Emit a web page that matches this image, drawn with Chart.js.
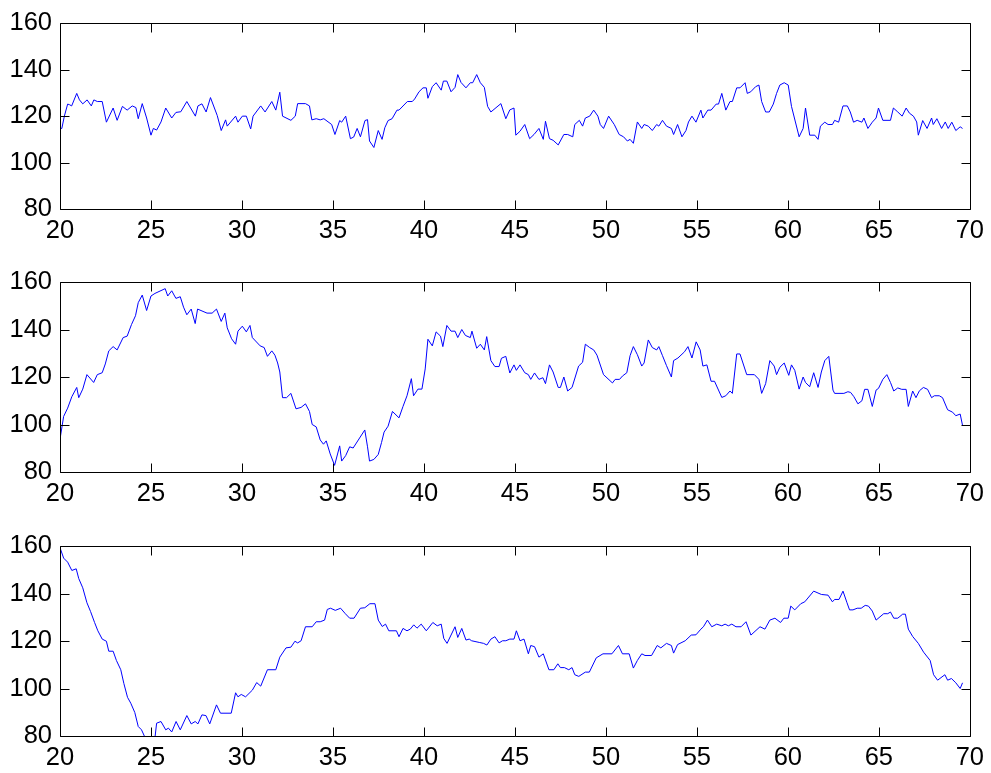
<!DOCTYPE html>
<html><head><meta charset="utf-8">
<script src="https://cdn.jsdelivr.net/npm/chart.js@4"></script>
<style>
html,body{margin:0;padding:0;background:#fff;overflow:hidden;}
#wrap{position:relative;width:991px;height:773px;}
#wrap canvas{position:absolute;left:0;top:0;}
</style>
</head><body>
<div id="wrap">
<canvas id="c1" width="991" height="773"></canvas>
<canvas id="c2" width="991" height="773"></canvas>
<canvas id="c3" width="991" height="773"></canvas>
</div>
<script>
const xTicks = [20,25,30,35,40,45,50,55,60,65,70];
const yTicks = [80,100,120,140,160];

const xs1 = [20.0,20.1,20.24,20.42,20.53,20.64,20.92,21.07,21.25,21.49,21.72,21.86,22.05,22.32,22.55,22.92,23.14,23.43,23.69,23.97,24.17,24.3,24.52,24.76,25.0,25.13,25.31,25.55,25.81,26.14,26.37,26.64,26.97,27.44,27.58,27.8,28.03,28.27,28.64,28.86,29.1,29.19,29.65,29.78,30.02,30.24,30.48,30.61,31.03,31.27,31.64,31.86,32.08,32.23,32.69,32.93,33.06,33.49,33.71,33.84,34.08,34.3,34.5,34.93,35.11,35.37,35.48,35.7,35.96,36.14,36.33,36.51,36.76,36.9,37.01,37.25,37.49,37.7,37.85,38.03,38.25,38.52,38.63,39.09,39.36,39.49,39.73,39.95,40.13,40.22,40.46,40.67,40.95,41.07,41.26,41.49,41.71,41.86,42.04,42.31,42.55,42.68,42.9,43.1,43.32,43.5,43.68,44.23,44.5,44.72,44.95,45.05,45.28,45.54,45.81,46.05,46.32,46.56,46.68,46.9,47.1,47.38,47.69,47.9,48.18,48.29,48.54,48.72,48.87,49.11,49.33,49.56,49.69,49.87,50.15,50.46,50.73,50.97,51.18,51.33,51.51,51.73,51.97,52.1,52.33,52.55,52.79,52.91,53.11,53.33,53.6,53.72,53.94,54.18,54.4,54.54,54.73,54.95,55.22,55.33,55.6,55.78,56.06,56.19,56.37,56.59,56.82,56.95,57.19,57.37,57.65,57.77,57.96,58.23,58.41,58.56,58.78,58.98,59.2,59.38,59.56,59.8,60.02,60.2,60.62,60.84,60.97,61.2,61.48,61.66,61.79,62.03,62.21,62.45,62.57,62.79,63.03,63.27,63.43,63.61,63.81,64.07,64.18,64.4,64.64,64.85,64.98,65.22,65.64,65.8,66.04,66.28,66.5,66.68,66.9,67.08,67.17,67.41,67.65,67.9,67.99,68.19,68.45,68.65,68.81,69.01,69.23,69.47,69.6];
const ys1 = [114.7,114.7,120,125.2,124.9,124.4,129.8,127,125.3,127,124.4,127,126.3,126.3,117.4,123.5,118.2,124.2,122.6,124.4,123.7,118.9,125.4,119.2,111.8,114.7,114,117.5,123.5,119.2,121.6,121.9,126.3,120,124.4,125.3,121.8,128,120.3,113.8,118.4,115.7,120,117.4,120,120,114.5,120,124.4,121.8,126.3,122.6,130.3,120,118.2,120,125.4,125.4,124.4,118.4,118.9,118.4,118.9,116.4,112.1,118.1,117.4,120,110.3,111,114.7,111.1,118.1,118.5,109.3,106.5,113.8,110,115,118.1,118.9,122.6,122.6,126.3,126.3,127.4,130.5,132.2,132.2,127.7,132.7,134.4,131.2,135.1,135.1,130.5,132.4,137.9,134.5,132.2,134.4,134.4,137.9,134.4,132.4,124.2,121.8,125.4,118.9,122.7,123.5,111.8,113.5,116.4,110.3,112.1,114.7,110,117.8,110.3,109.6,107.6,112.1,112.1,111.1,116.4,118.2,115.7,119.2,120,122.6,120,116.4,114.7,120,116.4,112.1,111.1,109.3,110,108.3,117.5,114.7,116.4,115.7,113.8,116.4,115.7,118.2,115.7,114.7,112.1,116.4,111.1,113.8,117.5,120,117.4,122.6,119.2,122.6,122.6,125.2,125.2,129.8,122.6,126.3,126.3,132.2,132.2,134.4,129.8,130.5,132.7,133.4,126.3,121.8,121.8,125.2,129.8,133.4,134.4,133.4,124.2,111.1,114.7,123.5,111.8,111.8,110,115.7,117.4,116.4,116.4,118.2,117.4,124.4,124.4,121.8,117.4,118.2,117.4,119.2,114.7,117.4,119.2,123.5,118.2,118.2,123.5,121.8,120,123.5,121.3,120,117.5,111.8,118.1,114.7,119.2,116.4,118.9,114.7,117.5,114.7,117.4,113.8,115.4,114.7];

const xs2 = [20.0,20.2,20.42,20.65,20.92,21.03,21.25,21.48,21.85,22.05,22.32,22.49,22.68,22.92,23.14,23.47,23.69,23.93,24.15,24.3,24.52,24.76,25.0,25.22,25.78,25.92,26.14,26.37,26.61,26.79,26.97,27.21,27.43,27.56,28.08,28.36,28.6,28.86,29.06,29.19,29.43,29.65,29.78,30.02,30.24,30.44,30.57,31.0,31.22,31.4,31.64,31.81,31.96,32.08,32.23,32.45,32.69,32.97,33.25,33.49,33.71,33.86,34.08,34.3,34.48,34.63,34.85,35.09,35.37,35.48,35.7,35.92,36.11,36.75,36.9,37.01,37.25,37.49,37.67,37.81,38.03,38.27,38.63,38.85,39.07,39.31,39.43,39.67,39.89,40.07,40.22,40.46,40.67,40.91,41.04,41.26,41.49,41.71,41.86,42.08,42.28,42.55,42.64,42.9,43.1,43.32,43.45,43.68,43.9,44.13,44.26,44.5,44.72,44.95,45.08,45.28,45.54,45.74,45.87,46.08,46.32,46.54,46.68,46.9,47.1,47.38,47.5,47.69,47.9,48.14,48.5,48.72,48.87,49.11,49.33,49.51,49.87,50.36,50.51,50.75,50.91,51.15,51.33,51.51,51.73,51.97,52.1,52.33,52.55,52.79,52.91,53.11,53.33,53.6,53.72,53.96,54.32,54.51,54.73,54.96,55.18,55.33,55.55,55.78,55.97,56.37,56.59,56.82,56.95,57.19,57.37,57.74,58.16,58.41,58.56,58.78,59.01,59.25,59.38,59.56,59.8,60.05,60.2,60.38,60.62,60.84,60.97,61.2,61.42,61.66,61.84,62.03,62.25,62.48,62.57,63.08,63.3,63.45,63.63,63.85,64.07,64.22,64.4,64.64,64.85,64.98,65.22,65.44,65.64,65.82,66.04,66.26,66.5,66.62,66.86,67.04,67.23,67.45,67.68,67.9,68.05,68.32,68.5,68.78,69.05,69.23,69.47,69.6];
const ys2 = [93.8,103.4,106.9,111.7,115.6,111.3,114.9,121,117.7,121,121.8,125.5,131,132.8,131.4,136.6,137.2,142.1,145.8,151.3,154.5,148,154.1,155.2,157.2,154.1,156.3,153.1,153.8,149.4,146.2,148.6,142.5,148.6,146.9,146.9,148.6,143.4,146.9,140.7,136.1,133.8,139.3,141.4,139,141.7,136.6,133.1,132.4,128.7,131,129.2,125.9,122.1,111.3,111.3,113.1,106.6,107.2,108.7,105.5,100,99,93.5,91.7,93.1,87.6,82.8,91.0,84.6,86.9,90.6,90.1,97.7,90.6,84.6,85.3,87.4,92.4,96.8,99.3,105.5,102.8,107.6,112.1,119.3,112.1,114.9,114.9,123.4,135.9,133.1,139,137.2,132.8,141.7,139.3,139.3,136.6,140,137.5,136.6,139.3,132.1,133.8,131.4,137,126.9,124.4,124.4,127.9,128.7,121.7,125.1,122.8,125.1,121.8,121,119,121.7,119,119.7,117.2,125.1,122.1,115.6,115.6,120,114.1,115.6,124.6,126.2,133.8,132.4,131.4,129.2,121,117.5,119,119,120.4,121.8,129,132.8,129.4,124.6,125.9,135.6,132.4,131.4,132.8,129,124.8,120,126.9,128,130.6,132.8,128,134.8,131.4,124.6,125.1,118.2,118.2,111.4,112.1,114.1,113.1,129.7,129.7,121,121,119,113.1,117.2,126.9,124.6,121,124.1,125.9,120.7,125.1,122.8,114.9,120,117.7,115.9,121.8,115.6,122.1,126.9,128.7,114.5,113.1,113.1,113.8,113.5,111.7,108.7,110,114.8,114.8,107.6,114.5,115.2,119,121,117.7,114.1,115.4,114.8,114.8,107.6,114.1,111.3,114.2,115.6,114.8,111.3,112.1,112.1,111.3,106.2,105.2,103.7,104.4,99.6];

const xs3 = [20.0,20.2,20.42,20.65,20.89,21.03,21.25,21.48,21.68,21.9,22.08,22.32,22.55,22.68,22.92,23.1,23.34,23.51,23.71,23.89,24.11,24.3,24.48,24.67,24.94,25.22,25.31,25.55,25.81,25.96,26.14,26.38,26.61,26.97,27.21,27.43,27.58,27.8,28.02,28.23,28.6,28.82,29.41,29.65,29.78,29.96,30.2,30.57,30.81,31.03,31.4,31.86,32.08,32.42,32.69,32.91,33.06,33.25,33.49,33.86,34.08,34.3,34.54,34.69,34.87,35.13,35.42,35.68,35.92,36.16,36.51,36.75,37.03,37.31,37.49,37.71,37.89,38.07,38.49,38.63,38.85,39.07,39.25,39.44,39.62,39.85,40.13,40.49,40.73,40.95,41.09,41.27,41.71,41.86,42.08,42.31,42.49,42.62,43.04,43.28,43.46,43.68,43.9,44.13,44.32,44.5,44.72,44.95,45.08,45.28,45.5,45.74,45.87,46.08,46.32,46.56,46.87,47.14,47.36,47.5,47.72,47.96,48.14,48.29,48.51,48.87,49.09,49.47,49.84,50.33,50.69,50.91,51.28,51.51,51.73,51.97,52.15,52.51,52.82,53.02,53.33,53.6,53.72,53.94,54.36,54.69,54.95,55.22,55.36,55.58,55.82,56.09,56.37,56.55,56.73,56.92,57.15,57.43,57.7,57.97,58.47,58.74,59.01,59.29,59.6,59.78,60.02,60.16,60.38,60.71,60.93,61.42,61.84,62.21,62.45,62.57,62.81,63.03,63.25,63.39,63.58,63.81,64.03,64.25,64.43,64.64,64.85,65.27,65.49,65.64,65.82,66.04,66.31,66.46,66.62,66.86,67.17,67.46,67.82,68.01,68.23,68.63,68.78,68.99,69.23,69.47,69.6];
const ys3 = [159.3,154.9,153.2,149.7,150.4,146.3,142.4,136.1,132.4,127.8,124.3,120.8,119.9,115.7,115.7,111.8,107.9,102.1,96.3,93.8,89.9,84,82.6,79.4,76,79.4,85.4,86.1,82.6,83.3,81.7,86.1,82.6,88.6,85.1,86.1,85.1,88.9,88.6,85.1,93.1,89.6,89.6,98.2,96.5,97.5,96.5,99.3,102.5,101,107.9,107.9,113.2,117.1,117.4,119.9,119.2,120.1,126,126,128.1,128.1,128.8,133.3,133.8,132.9,133.8,131.5,129.6,129.6,133.8,134,135.7,135.7,128.8,126.1,127.1,124.3,124.3,121.8,125.3,124.3,125,126.8,125.4,127.1,124.3,127.8,126.4,127.1,121.1,119,126,121.5,125.3,120.4,120.8,120.1,119.4,119,118.3,120.8,121.8,119.2,120.1,120.1,120.8,120.8,124.3,120.1,120.8,114.6,118.1,117.6,113.2,114.6,107.9,107.9,110.4,108.8,108.8,107.9,108.8,105.8,105.1,106.9,106.9,112.9,114.6,114.6,118.1,114.6,114.6,108.6,111.8,114.6,113.9,113.9,118.1,117.1,119,118.1,114.9,118.5,120.1,122.5,122.6,125,126,128.8,126,127.1,126.4,127.1,126.4,127.1,126,126,128.1,122.5,126,125,128.8,129.6,127.8,129.6,129.6,134.7,133.1,135.7,136.5,141,139.6,139.3,136.5,137.5,137.5,141,136.1,133.1,133.1,133.8,133.8,135,134.7,132.6,128.8,131.5,131.5,132.2,129.6,129.6,131.3,131.3,125,121.9,119,115.3,111.8,105.8,103.5,105.8,103.5,104.2,102.4,100,102.4];

const FONT = {family: 'Arial, "Liberation Sans", Helvetica, sans-serif', size: 25.5};
const TICK_LEN = 9;

const boxPlugin = {
  id: 'matlabBox',
  afterDraw(chart) {
    const {ctx, chartArea: a, scales} = chart;
    ctx.save();
    ctx.strokeStyle = '#000';
    ctx.lineWidth = 1;
    ctx.beginPath();
    const L = Math.round(a.left) + 0.5, R = Math.round(a.right) + 0.5;
    const T = Math.round(a.top) + 0.5, B = Math.round(a.bottom) + 0.5;
    ctx.rect(L, T, R - L, B - T);
    xTicks.forEach(v => {
      const px = Math.round(scales.x.getPixelForValue(v)) + 0.5;
      ctx.moveTo(px, B); ctx.lineTo(px, B - TICK_LEN);
      ctx.moveTo(px, T); ctx.lineTo(px, T + TICK_LEN);
    });
    yTicks.forEach(v => {
      const py = Math.round(scales.y.getPixelForValue(v)) + 0.5;
      ctx.moveTo(L, py); ctx.lineTo(L + TICK_LEN, py);
      ctx.moveTo(R, py); ctx.lineTo(R - TICK_LEN, py);
    });
    ctx.stroke();
    ctx.restore();
  }
};

function makeChart(id, xs, ys, padTop, padBottom) {
  const pts = xs.map((x, i) => ({x: x, y: ys[i]}));
  return new Chart(document.getElementById(id), {
    type: 'line',
    data: {datasets: [{data: pts, borderColor: '#0000ff', borderWidth: 1, pointRadius: 0, tension: 0, fill: false}]},
    options: {
      responsive: false,
      animation: false,
      events: [],
      layout: {padding: {left: 0, right: 18, top: padTop, bottom: padBottom}},
      plugins: {legend: {display: false}, tooltip: {enabled: false}},
      scales: {
        x: {
          type: 'linear', min: 20, max: 70,
          afterBuildTicks: s => { s.ticks = xTicks.map(v => ({value: v})); },
          afterFit: s => { s.height = 36; },
          grid: {display: false, drawTicks: false},
          border: {display: false},
          ticks: {color: '#000', font: FONT, padding: 7, maxRotation: 0, autoSkip: false}
        },
        y: {
          type: 'linear', min: 80, max: 160,
          afterBuildTicks: s => { s.ticks = yTicks.map(v => ({value: v})); },
          afterFit: s => { s.width = 60; },
          grid: {display: false, drawTicks: false},
          border: {display: false},
          ticks: {color: '#000', font: FONT, padding: 8}
        }
      }
    },
    plugins: [boxPlugin]
  });
}

makeChart('c1', xs1, ys1, 20, 528);
makeChart('c2', xs2, ys2, 282, 265);
makeChart('c3', xs3, ys3, 546, 1);
</script>
</body></html>
